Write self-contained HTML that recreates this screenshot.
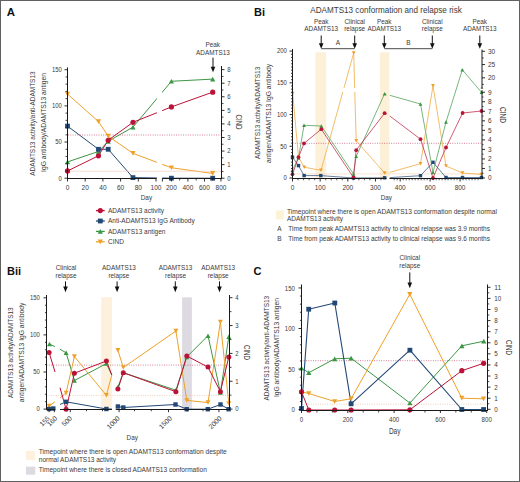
<!DOCTYPE html>
<html><head><meta charset="utf-8"><style>
html,body{margin:0;padding:0;background:#fff;}
svg{display:block;font-family:"Liberation Sans", sans-serif;}
</style></head><body>
<svg width="520" height="482" viewBox="0 0 520 482">
<rect x="0.5" y="0.5" width="519" height="481" fill="#fff" stroke="#606060" stroke-width="1"/>
<text x="6.8" y="16.1" font-size="11.4" text-anchor="start" fill="#111" font-weight="bold" >A</text>
<polyline points="67.50,161.93 98.47,151.44 108.21,141.31 132.99,127.14 171.40,81.28 212.70,79.11" fill="none" stroke="#3d9645" stroke-width="1.0" stroke-linejoin="round" />
<polyline points="67.50,94.07 98.47,121.61 108.21,136.13 132.99,153.37 171.40,167.75 212.70,173.45" fill="none" stroke="#eea12a" stroke-width="1.0" stroke-linejoin="round" />
<polyline points="67.50,126.12 98.47,149.27 108.21,149.27 132.99,177.62 171.40,178.20 212.70,178.20" fill="none" stroke="#224876" stroke-width="1.0" stroke-linejoin="round" />
<polyline points="67.50,170.97 98.47,155.78 108.21,140.23 132.99,122.29 171.40,106.95 212.70,92.13" fill="none" stroke="#bb1238" stroke-width="1.0" stroke-linejoin="round" />
<rect x="156.9" y="60" width="5.2" height="121" fill="#fff" />
<line x1="68" y1="135" x2="221.5" y2="135" stroke="#c24566" stroke-width="0.75" stroke-dasharray="0.9 1.45"/>
<line x1="68" y1="171.2" x2="221.5" y2="171.2" stroke="#f5c9b5" stroke-width="0.6" />
<polygon points="64.90,164.27 70.10,164.27 67.50,159.59" fill="#3d9645"/>
<polygon points="95.88,153.78 101.07,153.78 98.47,149.10" fill="#3d9645"/>
<polygon points="105.61,143.65 110.81,143.65 108.21,138.97" fill="#3d9645"/>
<polygon points="130.39,129.48 135.59,129.48 132.99,124.80" fill="#3d9645"/>
<polygon points="168.80,83.62 174.00,83.62 171.40,78.94" fill="#3d9645"/>
<polygon points="210.10,81.45 215.30,81.45 212.70,76.77" fill="#3d9645"/>
<polygon points="64.90,91.73 70.10,91.73 67.50,96.41" fill="#eea12a"/>
<polygon points="95.88,119.27 101.07,119.27 98.47,123.95" fill="#eea12a"/>
<polygon points="105.61,133.79 110.81,133.79 108.21,138.47" fill="#eea12a"/>
<polygon points="130.39,151.03 135.59,151.03 132.99,155.71" fill="#eea12a"/>
<polygon points="168.80,165.41 174.00,165.41 171.40,170.09" fill="#eea12a"/>
<polygon points="210.10,171.11 215.30,171.11 212.70,175.79" fill="#eea12a"/>
<rect x="65.10" y="123.72" width="4.8" height="4.8" fill="#224876"/>
<rect x="96.07" y="146.87" width="4.8" height="4.8" fill="#224876"/>
<rect x="105.81" y="146.87" width="4.8" height="4.8" fill="#224876"/>
<rect x="130.59" y="175.22" width="4.8" height="4.8" fill="#224876"/>
<rect x="169.00" y="175.80" width="4.8" height="4.8" fill="#224876"/>
<rect x="210.30" y="175.80" width="4.8" height="4.8" fill="#224876"/>
<circle cx="67.5" cy="170.96699999999998" r="2.6" fill="#bb1238"/>
<circle cx="98.475" cy="155.77769999999998" r="2.6" fill="#bb1238"/>
<circle cx="108.21000000000001" cy="140.22674999999998" r="2.6" fill="#bb1238"/>
<circle cx="132.99" cy="122.28890999999999" r="2.6" fill="#bb1238"/>
<circle cx="171.4" cy="106.95494999999998" r="2.6" fill="#bb1238"/>
<circle cx="212.70000000000002" cy="92.12729999999998" r="2.6" fill="#bb1238"/>
<line x1="67.5" y1="67.5" x2="67.5" y2="179.0" stroke="#1a1a1a" stroke-width="1" />
<line x1="64.5" y1="178.2" x2="67.5" y2="178.2" stroke="#1a1a1a" stroke-width="0.9" />
<text x="61.9" y="180.5" font-size="6.5" text-anchor="end" fill="#3a3a3a" textLength="3.3248800000000003" lengthAdjust="spacingAndGlyphs" >0</text>
<line x1="64.5" y1="142.03499999999997" x2="67.5" y2="142.03499999999997" stroke="#1a1a1a" stroke-width="0.9" />
<text x="61.9" y="144.33499999999998" font-size="6.5" text-anchor="end" fill="#3a3a3a" textLength="6.649760000000001" lengthAdjust="spacingAndGlyphs" >50</text>
<line x1="64.5" y1="105.86999999999998" x2="67.5" y2="105.86999999999998" stroke="#1a1a1a" stroke-width="0.9" />
<text x="61.9" y="108.16999999999997" font-size="6.5" text-anchor="end" fill="#3a3a3a" textLength="9.97464" lengthAdjust="spacingAndGlyphs" >100</text>
<line x1="64.5" y1="69.70499999999998" x2="67.5" y2="69.70499999999998" stroke="#1a1a1a" stroke-width="0.9" />
<text x="61.9" y="72.00499999999998" font-size="6.5" text-anchor="end" fill="#3a3a3a" textLength="9.97464" lengthAdjust="spacingAndGlyphs" >150</text>
<line x1="65.5" y1="170.96699999999998" x2="67.5" y2="170.96699999999998" stroke="#1a1a1a" stroke-width="0.8" />
<line x1="65.5" y1="163.73399999999998" x2="67.5" y2="163.73399999999998" stroke="#1a1a1a" stroke-width="0.8" />
<line x1="65.5" y1="156.50099999999998" x2="67.5" y2="156.50099999999998" stroke="#1a1a1a" stroke-width="0.8" />
<line x1="65.5" y1="149.26799999999997" x2="67.5" y2="149.26799999999997" stroke="#1a1a1a" stroke-width="0.8" />
<line x1="65.5" y1="134.802" x2="67.5" y2="134.802" stroke="#1a1a1a" stroke-width="0.8" />
<line x1="65.5" y1="127.56899999999999" x2="67.5" y2="127.56899999999999" stroke="#1a1a1a" stroke-width="0.8" />
<line x1="65.5" y1="120.33599999999998" x2="67.5" y2="120.33599999999998" stroke="#1a1a1a" stroke-width="0.8" />
<line x1="65.5" y1="113.10299999999998" x2="67.5" y2="113.10299999999998" stroke="#1a1a1a" stroke-width="0.8" />
<line x1="65.5" y1="98.63699999999999" x2="67.5" y2="98.63699999999999" stroke="#1a1a1a" stroke-width="0.8" />
<line x1="65.5" y1="91.40399999999998" x2="67.5" y2="91.40399999999998" stroke="#1a1a1a" stroke-width="0.8" />
<line x1="65.5" y1="84.17099999999998" x2="67.5" y2="84.17099999999998" stroke="#1a1a1a" stroke-width="0.8" />
<line x1="65.5" y1="76.93799999999999" x2="67.5" y2="76.93799999999999" stroke="#1a1a1a" stroke-width="0.8" />
<line x1="221.5" y1="66" x2="221.5" y2="179.0" stroke="#1a1a1a" stroke-width="1" />
<line x1="221.5" y1="178.2" x2="224.5" y2="178.2" stroke="#1a1a1a" stroke-width="0.9" />
<text x="227.2" y="180.5" font-size="6.5" text-anchor="start" fill="#3a3a3a" textLength="3.3248800000000003" lengthAdjust="spacingAndGlyphs" >0</text>
<line x1="221.5" y1="164.63" x2="224.5" y2="164.63" stroke="#1a1a1a" stroke-width="0.9" />
<text x="227.2" y="166.93" font-size="6.5" text-anchor="start" fill="#3a3a3a" textLength="3.3248800000000003" lengthAdjust="spacingAndGlyphs" >1</text>
<line x1="221.5" y1="151.06" x2="224.5" y2="151.06" stroke="#1a1a1a" stroke-width="0.9" />
<text x="227.2" y="153.36" font-size="6.5" text-anchor="start" fill="#3a3a3a" textLength="3.3248800000000003" lengthAdjust="spacingAndGlyphs" >2</text>
<line x1="221.5" y1="137.48999999999998" x2="224.5" y2="137.48999999999998" stroke="#1a1a1a" stroke-width="0.9" />
<text x="227.2" y="139.79" font-size="6.5" text-anchor="start" fill="#3a3a3a" textLength="3.3248800000000003" lengthAdjust="spacingAndGlyphs" >3</text>
<line x1="221.5" y1="123.91999999999999" x2="224.5" y2="123.91999999999999" stroke="#1a1a1a" stroke-width="0.9" />
<text x="227.2" y="126.21999999999998" font-size="6.5" text-anchor="start" fill="#3a3a3a" textLength="3.3248800000000003" lengthAdjust="spacingAndGlyphs" >4</text>
<line x1="221.5" y1="110.35" x2="224.5" y2="110.35" stroke="#1a1a1a" stroke-width="0.9" />
<text x="227.2" y="112.64999999999999" font-size="6.5" text-anchor="start" fill="#3a3a3a" textLength="3.3248800000000003" lengthAdjust="spacingAndGlyphs" >5</text>
<line x1="221.5" y1="96.77999999999999" x2="224.5" y2="96.77999999999999" stroke="#1a1a1a" stroke-width="0.9" />
<text x="227.2" y="99.07999999999998" font-size="6.5" text-anchor="start" fill="#3a3a3a" textLength="3.3248800000000003" lengthAdjust="spacingAndGlyphs" >6</text>
<line x1="221.5" y1="83.20999999999998" x2="224.5" y2="83.20999999999998" stroke="#1a1a1a" stroke-width="0.9" />
<text x="227.2" y="85.50999999999998" font-size="6.5" text-anchor="start" fill="#3a3a3a" textLength="3.3248800000000003" lengthAdjust="spacingAndGlyphs" >7</text>
<line x1="221.5" y1="69.63999999999999" x2="224.5" y2="69.63999999999999" stroke="#1a1a1a" stroke-width="0.9" />
<text x="227.2" y="71.93999999999998" font-size="6.5" text-anchor="start" fill="#3a3a3a" textLength="3.3248800000000003" lengthAdjust="spacingAndGlyphs" >8</text>
<line x1="221.5" y1="171.415" x2="223.5" y2="171.415" stroke="#1a1a1a" stroke-width="0.8" />
<line x1="221.5" y1="157.845" x2="223.5" y2="157.845" stroke="#1a1a1a" stroke-width="0.8" />
<line x1="221.5" y1="144.27499999999998" x2="223.5" y2="144.27499999999998" stroke="#1a1a1a" stroke-width="0.8" />
<line x1="221.5" y1="130.70499999999998" x2="223.5" y2="130.70499999999998" stroke="#1a1a1a" stroke-width="0.8" />
<line x1="221.5" y1="117.13499999999999" x2="223.5" y2="117.13499999999999" stroke="#1a1a1a" stroke-width="0.8" />
<line x1="221.5" y1="103.56499999999998" x2="223.5" y2="103.56499999999998" stroke="#1a1a1a" stroke-width="0.8" />
<line x1="221.5" y1="89.99499999999999" x2="223.5" y2="89.99499999999999" stroke="#1a1a1a" stroke-width="0.8" />
<line x1="221.5" y1="76.42499999999998" x2="223.5" y2="76.42499999999998" stroke="#1a1a1a" stroke-width="0.8" />
<line x1="67.5" y1="178.5" x2="156.5" y2="178.5" stroke="#1a1a1a" stroke-width="1" />
<line x1="162.4" y1="178.5" x2="221.5" y2="178.5" stroke="#1a1a1a" stroke-width="1" />
<line x1="67.5" y1="178.5" x2="67.5" y2="181.5" stroke="#1a1a1a" stroke-width="0.9" />
<text x="67.5" y="189.5" font-size="6.5" text-anchor="middle" fill="#3a3a3a" >0</text>
<line x1="85.2" y1="178.5" x2="85.2" y2="181.5" stroke="#1a1a1a" stroke-width="0.9" />
<text x="85.2" y="189.5" font-size="6.5" text-anchor="middle" fill="#3a3a3a" >20</text>
<line x1="102.9" y1="178.5" x2="102.9" y2="181.5" stroke="#1a1a1a" stroke-width="0.9" />
<text x="102.9" y="189.5" font-size="6.5" text-anchor="middle" fill="#3a3a3a" >40</text>
<line x1="120.6" y1="178.5" x2="120.6" y2="181.5" stroke="#1a1a1a" stroke-width="0.9" />
<text x="120.6" y="189.5" font-size="6.5" text-anchor="middle" fill="#3a3a3a" >60</text>
<line x1="138.3" y1="178.5" x2="138.3" y2="181.5" stroke="#1a1a1a" stroke-width="0.9" />
<text x="138.3" y="189.5" font-size="6.5" text-anchor="middle" fill="#3a3a3a" >80</text>
<line x1="156.0" y1="178.5" x2="156.0" y2="181.5" stroke="#1a1a1a" stroke-width="0.9" />
<text x="156.0" y="189.5" font-size="6.5" text-anchor="middle" fill="#3a3a3a" >100</text>
<line x1="162.4" y1="178.5" x2="162.4" y2="181.5" stroke="#1a1a1a" stroke-width="0.9" />
<line x1="171.4" y1="178.5" x2="171.4" y2="181.5" stroke="#1a1a1a" stroke-width="0.9" />
<text x="171.4" y="189.5" font-size="6.5" text-anchor="middle" fill="#3a3a3a" >200</text>
<line x1="187.92000000000002" y1="178.5" x2="187.92000000000002" y2="181.5" stroke="#1a1a1a" stroke-width="0.9" />
<text x="187.92000000000002" y="189.5" font-size="6.5" text-anchor="middle" fill="#3a3a3a" >400</text>
<line x1="204.44" y1="178.5" x2="204.44" y2="181.5" stroke="#1a1a1a" stroke-width="0.9" />
<text x="204.44" y="189.5" font-size="6.5" text-anchor="middle" fill="#3a3a3a" >600</text>
<line x1="220.96" y1="178.5" x2="220.96" y2="181.5" stroke="#1a1a1a" stroke-width="0.9" />
<text x="220.96" y="189.5" font-size="6.5" text-anchor="middle" fill="#3a3a3a" >800</text>
<line x1="179.66" y1="178.5" x2="179.66" y2="180.5" stroke="#1a1a1a" stroke-width="0.8" />
<line x1="196.18" y1="178.5" x2="196.18" y2="180.5" stroke="#1a1a1a" stroke-width="0.8" />
<line x1="212.70000000000002" y1="178.5" x2="212.70000000000002" y2="180.5" stroke="#1a1a1a" stroke-width="0.8" />
<text x="146.4" y="199.7" font-size="6.8" text-anchor="middle" fill="#3a3a3a" textLength="11.4" lengthAdjust="spacingAndGlyphs" >Day</text>
<text x="35" y="123.6" font-size="8.1" text-anchor="middle" fill="#3a3a3a" textLength="104.5" lengthAdjust="spacingAndGlyphs" transform="rotate(-90 35 123.6)" >ADAMTS13 activity/anti-ADAMTS13</text>
<text x="45.6" y="122.5" font-size="8.1" text-anchor="middle" fill="#3a3a3a" textLength="98.8" lengthAdjust="spacingAndGlyphs" transform="rotate(-90 45.6 122.5)" >IgG antibody/ADAMTS13 antigen</text>
<text x="236.3" y="122" font-size="8.8" text-anchor="middle" fill="#3a3a3a" textLength="15" lengthAdjust="spacingAndGlyphs" transform="rotate(90 236.3 122)" >CIND</text>
<text x="212.7" y="47.3" font-size="6.4" text-anchor="middle" fill="#3a3a3a" >Peak</text>
<text x="212.9" y="54.8" font-size="6.4" text-anchor="middle" fill="#3a3a3a" >ADAMTS13</text>
<line x1="213" y1="57.7" x2="213" y2="67.7" stroke="#111" stroke-width="1" />
<polygon points="210.70,66.70 215.30,66.70 213.00,72.30" fill="#111"/>
<line x1="96" y1="210.6" x2="104.7" y2="210.6" stroke="#bb1238" stroke-width="1.3" />
<circle cx="100.3" cy="210.6" r="2.6" fill="#bb1238"/>
<text x="108" y="212.9" font-size="6.5" text-anchor="start" fill="#3a3a3a" >ADAMTS13 activity</text>
<line x1="96" y1="221.0" x2="104.7" y2="221.0" stroke="#224876" stroke-width="1.3" />
<rect x="97.90" y="218.60" width="4.8" height="4.8" fill="#224876"/>
<text x="108" y="223.3" font-size="6.5" text-anchor="start" fill="#3a3a3a" >Anti-ADAMTS13 IgG Antibody</text>
<line x1="96" y1="231.4" x2="104.7" y2="231.4" stroke="#3d9645" stroke-width="1.3" />
<polygon points="97.70,233.74 102.90,233.74 100.30,229.06" fill="#3d9645"/>
<text x="108" y="233.70000000000002" font-size="6.5" text-anchor="start" fill="#3a3a3a" >ADAMTS13 antigen</text>
<line x1="96" y1="241.8" x2="104.7" y2="241.8" stroke="#eea12a" stroke-width="1.3" />
<polygon points="97.70,239.46 102.90,239.46 100.30,244.14" fill="#eea12a"/>
<text x="108" y="244.10000000000002" font-size="6.5" text-anchor="start" fill="#3a3a3a" >CIND</text>
<text x="254" y="16.2" font-size="11" text-anchor="start" fill="#111" font-weight="bold" >Bi</text>
<text x="386" y="13" font-size="8.2" text-anchor="middle" fill="#3a3a3a" textLength="151.5" lengthAdjust="spacingAndGlyphs" >ADAMTS13 conformation and relapse risk</text>
<rect x="315.4" y="52.3" width="10.8" height="125.7" fill="#fdf0d8" />
<rect x="379.8" y="52.3" width="9.6" height="125.7" fill="#fdf0d8" />
<text x="321.2" y="23.6" font-size="6.4" text-anchor="middle" fill="#3a3a3a" >Peak</text>
<text x="321.2" y="31.4" font-size="6.4" text-anchor="middle" fill="#3a3a3a" >ADAMTS13</text>
<line x1="321.2" y1="35.5" x2="321.2" y2="44.199999999999996" stroke="#111" stroke-width="1" />
<polygon points="318.90,43.20 323.50,43.20 321.20,48.80" fill="#111"/>
<text x="354.7" y="23.6" font-size="6.4" text-anchor="middle" fill="#3a3a3a" >Clinical</text>
<text x="354.7" y="31.4" font-size="6.4" text-anchor="middle" fill="#3a3a3a" >relapse</text>
<line x1="354.7" y1="35.5" x2="354.7" y2="44.199999999999996" stroke="#111" stroke-width="1" />
<polygon points="352.40,43.20 357.00,43.20 354.70,48.80" fill="#111"/>
<text x="384.3" y="23.6" font-size="6.4" text-anchor="middle" fill="#3a3a3a" >Peak</text>
<text x="384.3" y="31.4" font-size="6.4" text-anchor="middle" fill="#3a3a3a" >ADAMTS13</text>
<line x1="384.3" y1="35.5" x2="384.3" y2="44.199999999999996" stroke="#111" stroke-width="1" />
<polygon points="382.00,43.20 386.60,43.20 384.30,48.80" fill="#111"/>
<text x="432.3" y="23.6" font-size="6.4" text-anchor="middle" fill="#3a3a3a" >Clinical</text>
<text x="432.3" y="31.4" font-size="6.4" text-anchor="middle" fill="#3a3a3a" >relapse</text>
<line x1="432.3" y1="35.5" x2="432.3" y2="44.199999999999996" stroke="#111" stroke-width="1" />
<polygon points="430.00,43.20 434.60,43.20 432.30,48.80" fill="#111"/>
<text x="479.8" y="23.6" font-size="6.4" text-anchor="middle" fill="#3a3a3a" >Peak</text>
<text x="479.8" y="31.4" font-size="6.4" text-anchor="middle" fill="#3a3a3a" >ADAMTS13</text>
<line x1="479.8" y1="35.5" x2="479.8" y2="44.199999999999996" stroke="#111" stroke-width="1" />
<polygon points="477.50,43.20 482.10,43.20 479.80,48.80" fill="#111"/>
<line x1="321.2" y1="48.7" x2="354.7" y2="48.7" stroke="#4a4a4a" stroke-width="1" />
<line x1="384.3" y1="48.7" x2="432.3" y2="48.7" stroke="#4a4a4a" stroke-width="1" />
<text x="338" y="45" font-size="6.5" text-anchor="middle" fill="#3a3a3a" >A</text>
<text x="408.5" y="45" font-size="6.5" text-anchor="middle" fill="#3a3a3a" >B</text>
<line x1="292.5" y1="143.3" x2="482" y2="143.3" stroke="#c24566" stroke-width="0.75" stroke-dasharray="0.9 1.45"/>
<line x1="292.5" y1="173.9" x2="482" y2="173.9" stroke="#f7d0b0" stroke-width="0.6" />
<polyline points="292.50,170.00 298.50,158.00 304.00,125.30 321.30,126.00 353.50,174.00 356.20,156.40 384.60,93.70 386.50,94.30" fill="none" stroke="#3d9645" stroke-width="0.7" stroke-linejoin="round" />
<polyline points="389.80,95.30 420.50,104.00 433.00,172.50 446.00,122.00 462.30,69.80 481.50,92.30" fill="none" stroke="#3d9645" stroke-width="0.7" stroke-linejoin="round" />
<polyline points="292.70,93.50 298.50,157.50 304.30,167.20 321.00,170.30 353.70,53.00 356.20,140.80 384.60,173.00 386.50,172.80" fill="none" stroke="#eea12a" stroke-width="0.7" stroke-linejoin="round" />
<polyline points="389.80,172.30 420.50,163.70 433.00,85.80 446.00,166.00 462.50,173.00 481.30,174.40" fill="none" stroke="#eea12a" stroke-width="0.7" stroke-linejoin="round" />
<rect x="335" y="88" width="25" height="3.8" fill="#fff" />
<polyline points="292.50,157.20 298.50,165.60 304.10,175.60 320.80,175.60 353.50,178.00 384.60,177.80 386.50,177.80" fill="none" stroke="#224876" stroke-width="0.7" stroke-linejoin="round" />
<polyline points="389.80,177.60 420.50,175.70 433.00,162.30 446.00,177.50 462.50,177.50 481.50,177.50" fill="none" stroke="#224876" stroke-width="0.7" stroke-linejoin="round" />
<polyline points="292.50,174.20 298.50,157.20 304.00,143.40 321.30,129.20 353.50,177.50 356.20,150.20 384.60,113.20 386.50,114.20" fill="none" stroke="#bb1238" stroke-width="0.7" stroke-linejoin="round" />
<polyline points="389.80,116.00 420.50,139.20 433.00,178.00 446.00,147.50 462.60,113.00 481.50,111.00" fill="none" stroke="#bb1238" stroke-width="0.7" stroke-linejoin="round" />
<polygon points="290.60,171.71 294.40,171.71 292.50,168.29" fill="#3d9645"/>
<polygon points="296.60,159.71 300.40,159.71 298.50,156.29" fill="#3d9645"/>
<polygon points="302.10,127.01 305.90,127.01 304.00,123.59" fill="#3d9645"/>
<polygon points="319.40,127.71 323.20,127.71 321.30,124.29" fill="#3d9645"/>
<polygon points="351.60,175.71 355.40,175.71 353.50,172.29" fill="#3d9645"/>
<polygon points="354.30,158.11 358.10,158.11 356.20,154.69" fill="#3d9645"/>
<polygon points="382.70,95.41 386.50,95.41 384.60,91.99" fill="#3d9645"/>
<polygon points="418.60,105.71 422.40,105.71 420.50,102.29" fill="#3d9645"/>
<polygon points="431.10,174.21 434.90,174.21 433.00,170.79" fill="#3d9645"/>
<polygon points="444.10,123.71 447.90,123.71 446.00,120.29" fill="#3d9645"/>
<polygon points="460.40,71.51 464.20,71.51 462.30,68.09" fill="#3d9645"/>
<polygon points="479.60,94.01 483.40,94.01 481.50,90.59" fill="#3d9645"/>
<polygon points="290.80,91.79 294.60,91.79 292.70,95.21" fill="#eea12a"/>
<polygon points="296.60,155.79 300.40,155.79 298.50,159.21" fill="#eea12a"/>
<polygon points="302.40,165.49 306.20,165.49 304.30,168.91" fill="#eea12a"/>
<polygon points="319.10,168.59 322.90,168.59 321.00,172.01" fill="#eea12a"/>
<polygon points="351.80,51.29 355.60,51.29 353.70,54.71" fill="#eea12a"/>
<polygon points="354.30,139.09 358.10,139.09 356.20,142.51" fill="#eea12a"/>
<polygon points="382.70,171.29 386.50,171.29 384.60,174.71" fill="#eea12a"/>
<polygon points="418.60,161.99 422.40,161.99 420.50,165.41" fill="#eea12a"/>
<polygon points="431.10,84.09 434.90,84.09 433.00,87.51" fill="#eea12a"/>
<polygon points="444.10,164.29 447.90,164.29 446.00,167.71" fill="#eea12a"/>
<polygon points="460.60,171.29 464.40,171.29 462.50,174.71" fill="#eea12a"/>
<polygon points="479.40,172.69 483.20,172.69 481.30,176.11" fill="#eea12a"/>
<rect x="290.80" y="155.50" width="3.4" height="3.4" fill="#224876"/>
<rect x="296.80" y="163.90" width="3.4" height="3.4" fill="#224876"/>
<rect x="302.40" y="173.90" width="3.4" height="3.4" fill="#224876"/>
<rect x="319.10" y="173.90" width="3.4" height="3.4" fill="#224876"/>
<rect x="351.80" y="176.30" width="3.4" height="3.4" fill="#224876"/>
<rect x="382.90" y="176.10" width="3.4" height="3.4" fill="#224876"/>
<rect x="418.80" y="174.00" width="3.4" height="3.4" fill="#224876"/>
<rect x="431.30" y="160.60" width="3.4" height="3.4" fill="#224876"/>
<rect x="444.30" y="175.80" width="3.4" height="3.4" fill="#224876"/>
<rect x="460.80" y="175.80" width="3.4" height="3.4" fill="#224876"/>
<rect x="479.80" y="175.80" width="3.4" height="3.4" fill="#224876"/>
<circle cx="292.5" cy="174.2" r="1.9" fill="#bb1238"/>
<circle cx="298.5" cy="157.2" r="1.9" fill="#bb1238"/>
<circle cx="304" cy="143.4" r="1.9" fill="#bb1238"/>
<circle cx="321.3" cy="129.2" r="1.9" fill="#bb1238"/>
<circle cx="353.5" cy="177.5" r="1.9" fill="#bb1238"/>
<circle cx="356.2" cy="150.2" r="1.9" fill="#bb1238"/>
<circle cx="384.6" cy="113.2" r="1.9" fill="#bb1238"/>
<circle cx="420.5" cy="139.2" r="1.9" fill="#bb1238"/>
<circle cx="433" cy="178" r="1.9" fill="#bb1238"/>
<circle cx="446" cy="147.5" r="1.9" fill="#bb1238"/>
<circle cx="462.6" cy="113" r="1.9" fill="#bb1238"/>
<circle cx="481.5" cy="111" r="1.9" fill="#bb1238"/>
<line x1="292.5" y1="49" x2="292.5" y2="179.0" stroke="#1a1a1a" stroke-width="1" />
<line x1="289.5" y1="178.0" x2="292.5" y2="178.0" stroke="#1a1a1a" stroke-width="0.9" />
<text x="286.9" y="180.3" font-size="6.5" text-anchor="end" fill="#3a3a3a" textLength="3.3248800000000003" lengthAdjust="spacingAndGlyphs" >0</text>
<line x1="289.5" y1="146.275" x2="292.5" y2="146.275" stroke="#1a1a1a" stroke-width="0.9" />
<text x="286.9" y="148.57500000000002" font-size="6.5" text-anchor="end" fill="#3a3a3a" textLength="6.649760000000001" lengthAdjust="spacingAndGlyphs" >50</text>
<line x1="289.5" y1="114.55000000000001" x2="292.5" y2="114.55000000000001" stroke="#1a1a1a" stroke-width="0.9" />
<text x="286.9" y="116.85000000000001" font-size="6.5" text-anchor="end" fill="#3a3a3a" textLength="9.97464" lengthAdjust="spacingAndGlyphs" >100</text>
<line x1="289.5" y1="82.825" x2="292.5" y2="82.825" stroke="#1a1a1a" stroke-width="0.9" />
<text x="286.9" y="85.125" font-size="6.5" text-anchor="end" fill="#3a3a3a" textLength="9.97464" lengthAdjust="spacingAndGlyphs" >150</text>
<line x1="289.5" y1="51.10000000000001" x2="292.5" y2="51.10000000000001" stroke="#1a1a1a" stroke-width="0.9" />
<text x="286.9" y="53.400000000000006" font-size="6.5" text-anchor="end" fill="#3a3a3a" textLength="9.97464" lengthAdjust="spacingAndGlyphs" >200</text>
<line x1="291.0" y1="174.8275" x2="292.5" y2="174.8275" stroke="#1a1a1a" stroke-width="0.8" />
<line x1="291.0" y1="171.655" x2="292.5" y2="171.655" stroke="#1a1a1a" stroke-width="0.8" />
<line x1="291.0" y1="168.4825" x2="292.5" y2="168.4825" stroke="#1a1a1a" stroke-width="0.8" />
<line x1="291.0" y1="165.31" x2="292.5" y2="165.31" stroke="#1a1a1a" stroke-width="0.8" />
<line x1="291.0" y1="162.1375" x2="292.5" y2="162.1375" stroke="#1a1a1a" stroke-width="0.8" />
<line x1="291.0" y1="158.965" x2="292.5" y2="158.965" stroke="#1a1a1a" stroke-width="0.8" />
<line x1="291.0" y1="155.7925" x2="292.5" y2="155.7925" stroke="#1a1a1a" stroke-width="0.8" />
<line x1="291.0" y1="152.62" x2="292.5" y2="152.62" stroke="#1a1a1a" stroke-width="0.8" />
<line x1="291.0" y1="149.4475" x2="292.5" y2="149.4475" stroke="#1a1a1a" stroke-width="0.8" />
<line x1="291.0" y1="143.1025" x2="292.5" y2="143.1025" stroke="#1a1a1a" stroke-width="0.8" />
<line x1="291.0" y1="139.93" x2="292.5" y2="139.93" stroke="#1a1a1a" stroke-width="0.8" />
<line x1="291.0" y1="136.7575" x2="292.5" y2="136.7575" stroke="#1a1a1a" stroke-width="0.8" />
<line x1="291.0" y1="133.585" x2="292.5" y2="133.585" stroke="#1a1a1a" stroke-width="0.8" />
<line x1="291.0" y1="130.4125" x2="292.5" y2="130.4125" stroke="#1a1a1a" stroke-width="0.8" />
<line x1="291.0" y1="127.24000000000001" x2="292.5" y2="127.24000000000001" stroke="#1a1a1a" stroke-width="0.8" />
<line x1="291.0" y1="124.0675" x2="292.5" y2="124.0675" stroke="#1a1a1a" stroke-width="0.8" />
<line x1="291.0" y1="120.89500000000001" x2="292.5" y2="120.89500000000001" stroke="#1a1a1a" stroke-width="0.8" />
<line x1="291.0" y1="117.7225" x2="292.5" y2="117.7225" stroke="#1a1a1a" stroke-width="0.8" />
<line x1="291.0" y1="111.37750000000001" x2="292.5" y2="111.37750000000001" stroke="#1a1a1a" stroke-width="0.8" />
<line x1="291.0" y1="108.205" x2="292.5" y2="108.205" stroke="#1a1a1a" stroke-width="0.8" />
<line x1="291.0" y1="105.0325" x2="292.5" y2="105.0325" stroke="#1a1a1a" stroke-width="0.8" />
<line x1="291.0" y1="101.86" x2="292.5" y2="101.86" stroke="#1a1a1a" stroke-width="0.8" />
<line x1="291.0" y1="98.6875" x2="292.5" y2="98.6875" stroke="#1a1a1a" stroke-width="0.8" />
<line x1="291.0" y1="95.515" x2="292.5" y2="95.515" stroke="#1a1a1a" stroke-width="0.8" />
<line x1="291.0" y1="92.3425" x2="292.5" y2="92.3425" stroke="#1a1a1a" stroke-width="0.8" />
<line x1="291.0" y1="89.17" x2="292.5" y2="89.17" stroke="#1a1a1a" stroke-width="0.8" />
<line x1="291.0" y1="85.9975" x2="292.5" y2="85.9975" stroke="#1a1a1a" stroke-width="0.8" />
<line x1="291.0" y1="79.6525" x2="292.5" y2="79.6525" stroke="#1a1a1a" stroke-width="0.8" />
<line x1="291.0" y1="76.48" x2="292.5" y2="76.48" stroke="#1a1a1a" stroke-width="0.8" />
<line x1="291.0" y1="73.3075" x2="292.5" y2="73.3075" stroke="#1a1a1a" stroke-width="0.8" />
<line x1="291.0" y1="70.135" x2="292.5" y2="70.135" stroke="#1a1a1a" stroke-width="0.8" />
<line x1="291.0" y1="66.9625" x2="292.5" y2="66.9625" stroke="#1a1a1a" stroke-width="0.8" />
<line x1="291.0" y1="63.790000000000006" x2="292.5" y2="63.790000000000006" stroke="#1a1a1a" stroke-width="0.8" />
<line x1="291.0" y1="60.61750000000001" x2="292.5" y2="60.61750000000001" stroke="#1a1a1a" stroke-width="0.8" />
<line x1="291.0" y1="57.44500000000001" x2="292.5" y2="57.44500000000001" stroke="#1a1a1a" stroke-width="0.8" />
<line x1="291.0" y1="54.27250000000001" x2="292.5" y2="54.27250000000001" stroke="#1a1a1a" stroke-width="0.8" />
<line x1="482" y1="49.5" x2="482" y2="88.2" stroke="#1a1a1a" stroke-width="1" />
<line x1="480.8" y1="88.2" x2="483.2" y2="88.2" stroke="#1a1a1a" stroke-width="0.8" />
<line x1="482" y1="90.2" x2="482" y2="178.5" stroke="#1a1a1a" stroke-width="1" />
<line x1="482" y1="178.0" x2="485" y2="178.0" stroke="#1a1a1a" stroke-width="0.9" />
<text x="488" y="180.3" font-size="6.5" text-anchor="start" fill="#3a3a3a" >0</text>
<line x1="482" y1="168.47" x2="485" y2="168.47" stroke="#1a1a1a" stroke-width="0.9" />
<text x="488" y="170.77" font-size="6.5" text-anchor="start" fill="#3a3a3a" >1</text>
<line x1="482" y1="158.94" x2="485" y2="158.94" stroke="#1a1a1a" stroke-width="0.9" />
<text x="488" y="161.24" font-size="6.5" text-anchor="start" fill="#3a3a3a" >2</text>
<line x1="482" y1="149.41" x2="485" y2="149.41" stroke="#1a1a1a" stroke-width="0.9" />
<text x="488" y="151.71" font-size="6.5" text-anchor="start" fill="#3a3a3a" >3</text>
<line x1="482" y1="139.88" x2="485" y2="139.88" stroke="#1a1a1a" stroke-width="0.9" />
<text x="488" y="142.18" font-size="6.5" text-anchor="start" fill="#3a3a3a" >4</text>
<line x1="482" y1="130.35" x2="485" y2="130.35" stroke="#1a1a1a" stroke-width="0.9" />
<text x="488" y="132.65" font-size="6.5" text-anchor="start" fill="#3a3a3a" >5</text>
<line x1="482" y1="120.82000000000001" x2="485" y2="120.82000000000001" stroke="#1a1a1a" stroke-width="0.9" />
<text x="488" y="123.12" font-size="6.5" text-anchor="start" fill="#3a3a3a" >6</text>
<line x1="482" y1="111.29" x2="485" y2="111.29" stroke="#1a1a1a" stroke-width="0.9" />
<text x="488" y="113.59" font-size="6.5" text-anchor="start" fill="#3a3a3a" >7</text>
<line x1="482" y1="101.76" x2="485" y2="101.76" stroke="#1a1a1a" stroke-width="0.9" />
<text x="488" y="104.06" font-size="6.5" text-anchor="start" fill="#3a3a3a" >8</text>
<line x1="482" y1="92.23" x2="485" y2="92.23" stroke="#1a1a1a" stroke-width="0.9" />
<text x="488" y="94.53" font-size="6.5" text-anchor="start" fill="#3a3a3a" >9</text>
<line x1="482" y1="77.8" x2="485" y2="77.8" stroke="#1a1a1a" stroke-width="0.9" />
<text x="488" y="80.1" font-size="6.5" text-anchor="start" fill="#3a3a3a" >20</text>
<line x1="482" y1="64.55" x2="485" y2="64.55" stroke="#1a1a1a" stroke-width="0.9" />
<text x="488" y="66.85" font-size="6.5" text-anchor="start" fill="#3a3a3a" >25</text>
<line x1="482" y1="51.3" x2="485" y2="51.3" stroke="#1a1a1a" stroke-width="0.9" />
<text x="488" y="53.599999999999994" font-size="6.5" text-anchor="start" fill="#3a3a3a" >30</text>
<line x1="482" y1="84.425" x2="483.8" y2="84.425" stroke="#1a1a1a" stroke-width="0.8" />
<line x1="482" y1="71.175" x2="483.8" y2="71.175" stroke="#1a1a1a" stroke-width="0.8" />
<line x1="482" y1="57.925" x2="483.8" y2="57.925" stroke="#1a1a1a" stroke-width="0.8" />
<line x1="482" y1="173.235" x2="483.6" y2="173.235" stroke="#1a1a1a" stroke-width="0.7" />
<line x1="482" y1="163.705" x2="483.6" y2="163.705" stroke="#1a1a1a" stroke-width="0.7" />
<line x1="482" y1="154.175" x2="483.6" y2="154.175" stroke="#1a1a1a" stroke-width="0.7" />
<line x1="482" y1="144.645" x2="483.6" y2="144.645" stroke="#1a1a1a" stroke-width="0.7" />
<line x1="482" y1="135.115" x2="483.6" y2="135.115" stroke="#1a1a1a" stroke-width="0.7" />
<line x1="482" y1="125.58500000000001" x2="483.6" y2="125.58500000000001" stroke="#1a1a1a" stroke-width="0.7" />
<line x1="482" y1="116.055" x2="483.6" y2="116.055" stroke="#1a1a1a" stroke-width="0.7" />
<line x1="482" y1="106.525" x2="483.6" y2="106.525" stroke="#1a1a1a" stroke-width="0.7" />
<line x1="482" y1="96.995" x2="483.6" y2="96.995" stroke="#1a1a1a" stroke-width="0.7" />
<text x="500.4" y="115" font-size="8.8" text-anchor="middle" fill="#3a3a3a" textLength="16" lengthAdjust="spacingAndGlyphs" transform="rotate(90 500.4 115)" >CIND</text>
<line x1="292.3" y1="178.5" x2="386.5" y2="178.5" stroke="#1a1a1a" stroke-width="1.2" />
<line x1="389.5" y1="178.5" x2="482" y2="178.5" stroke="#1a1a1a" stroke-width="1.2" />
<line x1="292.5" y1="178.5" x2="292.5" y2="181.5" stroke="#1a1a1a" stroke-width="0.9" />
<text x="292.5" y="189.5" font-size="6.5" text-anchor="middle" fill="#3a3a3a" >0</text>
<line x1="320.16" y1="178.5" x2="320.16" y2="181.5" stroke="#1a1a1a" stroke-width="0.9" />
<text x="320.16" y="189.5" font-size="6.5" text-anchor="middle" fill="#3a3a3a" >100</text>
<line x1="347.82" y1="178.5" x2="347.82" y2="181.5" stroke="#1a1a1a" stroke-width="0.9" />
<text x="347.82" y="189.5" font-size="6.5" text-anchor="middle" fill="#3a3a3a" >200</text>
<line x1="375.48" y1="178.5" x2="375.48" y2="181.5" stroke="#1a1a1a" stroke-width="0.9" />
<text x="375.48" y="189.5" font-size="6.5" text-anchor="middle" fill="#3a3a3a" >300</text>
<line x1="400.2" y1="178.5" x2="400.2" y2="181.5" stroke="#1a1a1a" stroke-width="0.9" />
<text x="400.2" y="189.5" font-size="6.5" text-anchor="middle" fill="#3a3a3a" >400</text>
<line x1="430.14" y1="178.5" x2="430.14" y2="181.5" stroke="#1a1a1a" stroke-width="0.9" />
<text x="430.14" y="189.5" font-size="6.5" text-anchor="middle" fill="#3a3a3a" >600</text>
<line x1="460.08" y1="178.5" x2="460.08" y2="181.5" stroke="#1a1a1a" stroke-width="0.9" />
<text x="460.08" y="189.5" font-size="6.5" text-anchor="middle" fill="#3a3a3a" >800</text>
<line x1="298.032" y1="178.5" x2="298.032" y2="180.3" stroke="#1a1a1a" stroke-width="0.7" />
<line x1="303.564" y1="178.5" x2="303.564" y2="180.3" stroke="#1a1a1a" stroke-width="0.7" />
<line x1="309.096" y1="178.5" x2="309.096" y2="180.3" stroke="#1a1a1a" stroke-width="0.7" />
<line x1="314.628" y1="178.5" x2="314.628" y2="180.3" stroke="#1a1a1a" stroke-width="0.7" />
<line x1="325.692" y1="178.5" x2="325.692" y2="180.3" stroke="#1a1a1a" stroke-width="0.7" />
<line x1="331.224" y1="178.5" x2="331.224" y2="180.3" stroke="#1a1a1a" stroke-width="0.7" />
<line x1="336.756" y1="178.5" x2="336.756" y2="180.3" stroke="#1a1a1a" stroke-width="0.7" />
<line x1="342.288" y1="178.5" x2="342.288" y2="180.3" stroke="#1a1a1a" stroke-width="0.7" />
<line x1="353.352" y1="178.5" x2="353.352" y2="180.3" stroke="#1a1a1a" stroke-width="0.7" />
<line x1="358.884" y1="178.5" x2="358.884" y2="180.3" stroke="#1a1a1a" stroke-width="0.7" />
<line x1="364.416" y1="178.5" x2="364.416" y2="180.3" stroke="#1a1a1a" stroke-width="0.7" />
<line x1="369.948" y1="178.5" x2="369.948" y2="180.3" stroke="#1a1a1a" stroke-width="0.7" />
<line x1="381.012" y1="178.5" x2="381.012" y2="180.3" stroke="#1a1a1a" stroke-width="0.7" />
<line x1="394.212" y1="178.5" x2="394.212" y2="180.3" stroke="#1a1a1a" stroke-width="0.7" />
<line x1="397.206" y1="178.5" x2="397.206" y2="180.3" stroke="#1a1a1a" stroke-width="0.7" />
<line x1="403.19399999999996" y1="178.5" x2="403.19399999999996" y2="180.3" stroke="#1a1a1a" stroke-width="0.7" />
<line x1="406.188" y1="178.5" x2="406.188" y2="180.3" stroke="#1a1a1a" stroke-width="0.7" />
<line x1="409.182" y1="178.5" x2="409.182" y2="180.3" stroke="#1a1a1a" stroke-width="0.7" />
<line x1="412.176" y1="178.5" x2="412.176" y2="180.3" stroke="#1a1a1a" stroke-width="0.7" />
<line x1="415.17" y1="178.5" x2="415.17" y2="180.3" stroke="#1a1a1a" stroke-width="0.7" />
<line x1="418.164" y1="178.5" x2="418.164" y2="180.3" stroke="#1a1a1a" stroke-width="0.7" />
<line x1="421.158" y1="178.5" x2="421.158" y2="180.3" stroke="#1a1a1a" stroke-width="0.7" />
<line x1="424.152" y1="178.5" x2="424.152" y2="180.3" stroke="#1a1a1a" stroke-width="0.7" />
<line x1="427.146" y1="178.5" x2="427.146" y2="180.3" stroke="#1a1a1a" stroke-width="0.7" />
<line x1="433.134" y1="178.5" x2="433.134" y2="180.3" stroke="#1a1a1a" stroke-width="0.7" />
<line x1="436.128" y1="178.5" x2="436.128" y2="180.3" stroke="#1a1a1a" stroke-width="0.7" />
<line x1="439.12199999999996" y1="178.5" x2="439.12199999999996" y2="180.3" stroke="#1a1a1a" stroke-width="0.7" />
<line x1="442.116" y1="178.5" x2="442.116" y2="180.3" stroke="#1a1a1a" stroke-width="0.7" />
<line x1="445.11" y1="178.5" x2="445.11" y2="180.3" stroke="#1a1a1a" stroke-width="0.7" />
<line x1="448.104" y1="178.5" x2="448.104" y2="180.3" stroke="#1a1a1a" stroke-width="0.7" />
<line x1="451.098" y1="178.5" x2="451.098" y2="180.3" stroke="#1a1a1a" stroke-width="0.7" />
<line x1="454.092" y1="178.5" x2="454.092" y2="180.3" stroke="#1a1a1a" stroke-width="0.7" />
<line x1="457.086" y1="178.5" x2="457.086" y2="180.3" stroke="#1a1a1a" stroke-width="0.7" />
<line x1="463.074" y1="178.5" x2="463.074" y2="180.3" stroke="#1a1a1a" stroke-width="0.7" />
<line x1="466.068" y1="178.5" x2="466.068" y2="180.3" stroke="#1a1a1a" stroke-width="0.7" />
<line x1="469.062" y1="178.5" x2="469.062" y2="180.3" stroke="#1a1a1a" stroke-width="0.7" />
<line x1="472.056" y1="178.5" x2="472.056" y2="180.3" stroke="#1a1a1a" stroke-width="0.7" />
<line x1="475.04999999999995" y1="178.5" x2="475.04999999999995" y2="180.3" stroke="#1a1a1a" stroke-width="0.7" />
<line x1="478.044" y1="178.5" x2="478.044" y2="180.3" stroke="#1a1a1a" stroke-width="0.7" />
<text x="386.3" y="199.9" font-size="7.6" text-anchor="middle" fill="#3a3a3a" textLength="11.3" lengthAdjust="spacingAndGlyphs" >Day</text>
<text x="259.9" y="112.9" font-size="8.1" text-anchor="middle" fill="#3a3a3a" textLength="92.4" lengthAdjust="spacingAndGlyphs" transform="rotate(-90 259.9 112.9)" >ADAMTS13 activity/ADAMTS13</text>
<text x="270.6" y="113.5" font-size="8.1" text-anchor="middle" fill="#3a3a3a" textLength="99.2" lengthAdjust="spacingAndGlyphs" transform="rotate(-90 270.6 113.5)" >antigen/ADAMTS13 IgG antibody</text>
<rect x="275.8" y="210.4" width="8" height="9" fill="#fcf2d6" />
<text x="287" y="213.5" font-size="6.5" text-anchor="start" fill="#3a3a3a" textLength="210" lengthAdjust="spacingAndGlyphs" >Timepoint where there is open ADAMTS13 conformation despite normal</text>
<text x="287" y="221" font-size="6.5" text-anchor="start" fill="#3a3a3a" >ADAMTS13 activity</text>
<text x="279.5" y="230.9" font-size="6.5" text-anchor="middle" fill="#3a3a3a" >A</text>
<text x="288.3" y="230.9" font-size="6.5" text-anchor="start" fill="#3a3a3a" textLength="201.7" lengthAdjust="spacingAndGlyphs" >Time from peak ADAMTS13 activity to clinical relapse was 3.9 months</text>
<text x="279.5" y="241.4" font-size="6.5" text-anchor="middle" fill="#3a3a3a" >B</text>
<text x="288.3" y="241.4" font-size="6.5" text-anchor="start" fill="#3a3a3a" textLength="201.7" lengthAdjust="spacingAndGlyphs" >Time from peak ADAMTS13 activity to clinical relapse was 9.6 months</text>
<text x="7" y="275" font-size="11" text-anchor="start" fill="#111" font-weight="bold" >Bii</text>
<rect x="101.2" y="297.3" width="10.7" height="111.7" fill="#fdf0dc" />
<rect x="182.1" y="297.3" width="9.8" height="111.7" fill="#dddbe1" />
<text x="66" y="269.8" font-size="6.4" text-anchor="middle" fill="#3a3a3a" >Clinical</text>
<text x="66" y="277.6" font-size="6.4" text-anchor="middle" fill="#3a3a3a" >relapse</text>
<line x1="65.5" y1="281.4" x2="65.5" y2="287.59999999999997" stroke="#111" stroke-width="1" />
<polygon points="63.20,286.60 67.80,286.60 65.50,292.20" fill="#111"/>
<text x="118.9" y="269.8" font-size="6.4" text-anchor="middle" fill="#3a3a3a" >ADAMTS13</text>
<text x="118.9" y="277.6" font-size="6.4" text-anchor="middle" fill="#3a3a3a" >relapse</text>
<line x1="117.1" y1="281.4" x2="117.1" y2="287.59999999999997" stroke="#111" stroke-width="1" />
<polygon points="114.80,286.60 119.40,286.60 117.10,292.20" fill="#111"/>
<text x="175.5" y="269.8" font-size="6.4" text-anchor="middle" fill="#3a3a3a" >ADAMTS13</text>
<text x="175.5" y="277.6" font-size="6.4" text-anchor="middle" fill="#3a3a3a" >relapse</text>
<line x1="175.3" y1="281.4" x2="175.3" y2="287.59999999999997" stroke="#111" stroke-width="1" />
<polygon points="173.00,286.60 177.60,286.60 175.30,292.20" fill="#111"/>
<text x="218.2" y="269.8" font-size="6.4" text-anchor="middle" fill="#3a3a3a" >ADAMTS13</text>
<text x="218.2" y="277.6" font-size="6.4" text-anchor="middle" fill="#3a3a3a" >relapse</text>
<line x1="219.5" y1="281.4" x2="219.5" y2="287.59999999999997" stroke="#111" stroke-width="1" />
<polygon points="217.20,286.60 221.80,286.60 219.50,292.20" fill="#111"/>
<line x1="46.5" y1="365.1" x2="229.5" y2="365.1" stroke="#c24566" stroke-width="0.75" stroke-dasharray="0.9 1.45"/>
<line x1="46.5" y1="395.4" x2="229.5" y2="395.4" stroke="#eab89c" stroke-width="0.75" stroke-dasharray="0.9 1.45"/>
<polyline points="49.50,344.10 54.90,346.60" fill="none" stroke="#3d9645" stroke-width="1.0" stroke-linejoin="round" />
<polyline points="59.80,349.10 66.10,352.80 74.40,380.50 106.40,363.60 111.80,375.00" fill="none" stroke="#3d9645" stroke-width="1.0" stroke-linejoin="round" />
<polyline points="117.90,387.00 123.30,372.70 175.90,390.20 186.80,356.90 208.00,335.70 220.40,392.60 228.80,336.70" fill="none" stroke="#3d9645" stroke-width="1.0" stroke-linejoin="round" />
<polyline points="49.10,406.00 55.00,401.80" fill="none" stroke="#eea12a" stroke-width="1.0" stroke-linejoin="round" />
<polyline points="60.00,398.00 66.10,392.90 74.40,356.60 106.40,395.30 111.80,375.00" fill="none" stroke="#eea12a" stroke-width="1.0" stroke-linejoin="round" />
<polyline points="117.90,350.20 123.30,367.50 175.90,331.00 186.80,400.40 208.00,402.60 220.40,322.00 228.80,403.50" fill="none" stroke="#eea12a" stroke-width="1.0" stroke-linejoin="round" />
<polyline points="49.10,409.00 53.30,408.50" fill="none" stroke="#224876" stroke-width="1.0" stroke-linejoin="round" />
<polyline points="60.00,404.50 66.10,401.80 106.40,409.00 111.80,409.00" fill="none" stroke="#224876" stroke-width="1.0" stroke-linejoin="round" />
<polyline points="117.90,406.50 123.30,407.50 175.50,404.50 186.70,409.20 207.80,409.20 220.50,404.50 228.60,409.20" fill="none" stroke="#224876" stroke-width="1.0" stroke-linejoin="round" />
<polyline points="49.10,352.40 55.00,372.00" fill="none" stroke="#bb1238" stroke-width="1.0" stroke-linejoin="round" />
<polyline points="60.00,387.70 66.10,409.30 74.40,373.20 106.40,361.00 111.80,375.00" fill="none" stroke="#bb1238" stroke-width="1.0" stroke-linejoin="round" />
<polyline points="117.90,389.00 123.30,372.70 175.90,391.70 186.80,356.00 208.00,367.10 220.40,391.70 228.80,356.90" fill="none" stroke="#bb1238" stroke-width="1.0" stroke-linejoin="round" />
<polygon points="47.00,346.35 52.00,346.35 49.50,341.85" fill="#3d9645"/>
<polygon points="63.60,355.05 68.60,355.05 66.10,350.55" fill="#3d9645"/>
<polygon points="71.90,382.75 76.90,382.75 74.40,378.25" fill="#3d9645"/>
<polygon points="103.90,365.85 108.90,365.85 106.40,361.35" fill="#3d9645"/>
<polygon points="115.40,389.25 120.40,389.25 117.90,384.75" fill="#3d9645"/>
<polygon points="120.80,374.95 125.80,374.95 123.30,370.45" fill="#3d9645"/>
<polygon points="173.40,392.45 178.40,392.45 175.90,387.95" fill="#3d9645"/>
<polygon points="184.30,359.15 189.30,359.15 186.80,354.65" fill="#3d9645"/>
<polygon points="205.50,337.95 210.50,337.95 208.00,333.45" fill="#3d9645"/>
<polygon points="217.90,394.85 222.90,394.85 220.40,390.35" fill="#3d9645"/>
<polygon points="226.30,338.95 231.30,338.95 228.80,334.45" fill="#3d9645"/>
<polygon points="46.60,403.75 51.60,403.75 49.10,408.25" fill="#eea12a"/>
<polygon points="63.60,390.65 68.60,390.65 66.10,395.15" fill="#eea12a"/>
<polygon points="71.90,354.35 76.90,354.35 74.40,358.85" fill="#eea12a"/>
<polygon points="103.90,393.05 108.90,393.05 106.40,397.55" fill="#eea12a"/>
<polygon points="115.40,347.95 120.40,347.95 117.90,352.45" fill="#eea12a"/>
<polygon points="120.80,365.25 125.80,365.25 123.30,369.75" fill="#eea12a"/>
<polygon points="173.40,328.75 178.40,328.75 175.90,333.25" fill="#eea12a"/>
<polygon points="184.30,398.15 189.30,398.15 186.80,402.65" fill="#eea12a"/>
<polygon points="205.50,400.35 210.50,400.35 208.00,404.85" fill="#eea12a"/>
<polygon points="217.90,319.75 222.90,319.75 220.40,324.25" fill="#eea12a"/>
<polygon points="226.30,401.25 231.30,401.25 228.80,405.75" fill="#eea12a"/>
<rect x="46.90" y="406.80" width="4.4" height="4.4" fill="#224876"/>
<rect x="51.10" y="406.30" width="4.4" height="4.4" fill="#224876"/>
<rect x="63.90" y="399.60" width="4.4" height="4.4" fill="#224876"/>
<rect x="104.20" y="406.80" width="4.4" height="4.4" fill="#224876"/>
<rect x="115.70" y="404.30" width="4.4" height="4.4" fill="#224876"/>
<rect x="121.10" y="405.30" width="4.4" height="4.4" fill="#224876"/>
<rect x="173.30" y="402.30" width="4.4" height="4.4" fill="#224876"/>
<rect x="184.50" y="407.00" width="4.4" height="4.4" fill="#224876"/>
<rect x="205.60" y="407.00" width="4.4" height="4.4" fill="#224876"/>
<rect x="218.30" y="402.30" width="4.4" height="4.4" fill="#224876"/>
<rect x="226.40" y="407.00" width="4.4" height="4.4" fill="#224876"/>
<circle cx="49.1" cy="352.4" r="2.5" fill="#bb1238"/>
<circle cx="66.1" cy="409.3" r="2.5" fill="#bb1238"/>
<circle cx="74.4" cy="373.2" r="2.5" fill="#bb1238"/>
<circle cx="106.4" cy="361" r="2.5" fill="#bb1238"/>
<circle cx="117.9" cy="389" r="2.5" fill="#bb1238"/>
<circle cx="123.3" cy="372.7" r="2.5" fill="#bb1238"/>
<circle cx="175.9" cy="391.7" r="2.5" fill="#bb1238"/>
<circle cx="186.8" cy="356" r="2.5" fill="#bb1238"/>
<circle cx="208" cy="367.1" r="2.5" fill="#bb1238"/>
<circle cx="220.4" cy="391.7" r="2.5" fill="#bb1238"/>
<circle cx="228.8" cy="356.9" r="2.5" fill="#bb1238"/>
<line x1="46.5" y1="295" x2="46.5" y2="410.0" stroke="#1a1a1a" stroke-width="1" />
<line x1="43.5" y1="409.1" x2="46.5" y2="409.1" stroke="#1a1a1a" stroke-width="0.9" />
<text x="39.9" y="411.40000000000003" font-size="6.5" text-anchor="end" fill="#3a3a3a" textLength="3.3248800000000003" lengthAdjust="spacingAndGlyphs" >0</text>
<line x1="43.5" y1="372.0" x2="46.5" y2="372.0" stroke="#1a1a1a" stroke-width="0.9" />
<text x="39.9" y="374.3" font-size="6.5" text-anchor="end" fill="#3a3a3a" textLength="6.649760000000001" lengthAdjust="spacingAndGlyphs" >50</text>
<line x1="43.5" y1="334.90000000000003" x2="46.5" y2="334.90000000000003" stroke="#1a1a1a" stroke-width="0.9" />
<text x="39.9" y="337.20000000000005" font-size="6.5" text-anchor="end" fill="#3a3a3a" textLength="9.97464" lengthAdjust="spacingAndGlyphs" >100</text>
<line x1="43.5" y1="297.8" x2="46.5" y2="297.8" stroke="#1a1a1a" stroke-width="0.9" />
<text x="39.9" y="300.1" font-size="6.5" text-anchor="end" fill="#3a3a3a" textLength="9.97464" lengthAdjust="spacingAndGlyphs" >150</text>
<line x1="44.9" y1="401.68" x2="46.5" y2="401.68" stroke="#1a1a1a" stroke-width="0.8" />
<line x1="44.9" y1="394.26000000000005" x2="46.5" y2="394.26000000000005" stroke="#1a1a1a" stroke-width="0.8" />
<line x1="44.9" y1="386.84000000000003" x2="46.5" y2="386.84000000000003" stroke="#1a1a1a" stroke-width="0.8" />
<line x1="44.9" y1="379.42" x2="46.5" y2="379.42" stroke="#1a1a1a" stroke-width="0.8" />
<line x1="44.9" y1="364.58000000000004" x2="46.5" y2="364.58000000000004" stroke="#1a1a1a" stroke-width="0.8" />
<line x1="44.9" y1="357.16" x2="46.5" y2="357.16" stroke="#1a1a1a" stroke-width="0.8" />
<line x1="44.9" y1="349.74" x2="46.5" y2="349.74" stroke="#1a1a1a" stroke-width="0.8" />
<line x1="44.9" y1="342.32000000000005" x2="46.5" y2="342.32000000000005" stroke="#1a1a1a" stroke-width="0.8" />
<line x1="44.9" y1="327.48" x2="46.5" y2="327.48" stroke="#1a1a1a" stroke-width="0.8" />
<line x1="44.9" y1="320.06000000000006" x2="46.5" y2="320.06000000000006" stroke="#1a1a1a" stroke-width="0.8" />
<line x1="44.9" y1="312.64000000000004" x2="46.5" y2="312.64000000000004" stroke="#1a1a1a" stroke-width="0.8" />
<line x1="44.9" y1="305.22" x2="46.5" y2="305.22" stroke="#1a1a1a" stroke-width="0.8" />
<line x1="229.5" y1="295" x2="229.5" y2="410.0" stroke="#1a1a1a" stroke-width="1" />
<line x1="229.5" y1="409.1" x2="232.5" y2="409.1" stroke="#1a1a1a" stroke-width="0.9" />
<text x="235.2" y="411.40000000000003" font-size="6.5" text-anchor="start" fill="#3a3a3a" textLength="3.3248800000000003" lengthAdjust="spacingAndGlyphs" >0</text>
<line x1="229.5" y1="381.25" x2="232.5" y2="381.25" stroke="#1a1a1a" stroke-width="0.9" />
<text x="235.2" y="383.55" font-size="6.5" text-anchor="start" fill="#3a3a3a" textLength="3.3248800000000003" lengthAdjust="spacingAndGlyphs" >1</text>
<line x1="229.5" y1="353.40000000000003" x2="232.5" y2="353.40000000000003" stroke="#1a1a1a" stroke-width="0.9" />
<text x="235.2" y="355.70000000000005" font-size="6.5" text-anchor="start" fill="#3a3a3a" textLength="3.3248800000000003" lengthAdjust="spacingAndGlyphs" >2</text>
<line x1="229.5" y1="325.55" x2="232.5" y2="325.55" stroke="#1a1a1a" stroke-width="0.9" />
<text x="235.2" y="327.85" font-size="6.5" text-anchor="start" fill="#3a3a3a" textLength="3.3248800000000003" lengthAdjust="spacingAndGlyphs" >3</text>
<line x1="229.5" y1="297.70000000000005" x2="232.5" y2="297.70000000000005" stroke="#1a1a1a" stroke-width="0.9" />
<text x="235.2" y="300.00000000000006" font-size="6.5" text-anchor="start" fill="#3a3a3a" textLength="3.3248800000000003" lengthAdjust="spacingAndGlyphs" >4</text>
<line x1="229.5" y1="395.175" x2="231.5" y2="395.175" stroke="#1a1a1a" stroke-width="0.8" />
<line x1="229.5" y1="367.32500000000005" x2="231.5" y2="367.32500000000005" stroke="#1a1a1a" stroke-width="0.8" />
<line x1="229.5" y1="339.475" x2="231.5" y2="339.475" stroke="#1a1a1a" stroke-width="0.8" />
<line x1="229.5" y1="311.625" x2="231.5" y2="311.625" stroke="#1a1a1a" stroke-width="0.8" />
<line x1="46" y1="409.5" x2="55.2" y2="409.5" stroke="#1a1a1a" stroke-width="1" />
<line x1="60" y1="409.5" x2="111.9" y2="409.5" stroke="#1a1a1a" stroke-width="1" />
<line x1="115.8" y1="409.5" x2="229.5" y2="409.5" stroke="#1a1a1a" stroke-width="1" />
<line x1="49.1" y1="409.4" x2="49.1" y2="412.2" stroke="#1a1a1a" stroke-width="0.9" />
<text x="50.300000000000004" y="418.8" font-size="6.8" text-anchor="end" fill="#3a3a3a" transform="rotate(-45 50.300000000000004 418.8)" >155</text>
<line x1="54.3" y1="409.4" x2="54.3" y2="412.2" stroke="#1a1a1a" stroke-width="0.9" />
<text x="57.8" y="418.8" font-size="6.8" text-anchor="end" fill="#3a3a3a" transform="rotate(-45 57.8 418.8)" >160</text>
<line x1="70.3" y1="409.4" x2="70.3" y2="412.2" stroke="#1a1a1a" stroke-width="0.9" />
<text x="72.5" y="418.8" font-size="6.8" text-anchor="end" fill="#3a3a3a" transform="rotate(-45 72.5 418.8)" >500</text>
<line x1="119.1" y1="409.4" x2="119.1" y2="412.2" stroke="#1a1a1a" stroke-width="0.9" />
<text x="120.3" y="418.8" font-size="6.8" text-anchor="end" fill="#3a3a3a" transform="rotate(-45 120.3 418.8)" >1000</text>
<line x1="168.5" y1="409.4" x2="168.5" y2="412.2" stroke="#1a1a1a" stroke-width="0.9" />
<text x="172.39999999999998" y="418.8" font-size="6.8" text-anchor="end" fill="#3a3a3a" transform="rotate(-45 172.39999999999998 418.8)" >1500</text>
<line x1="218.9" y1="409.4" x2="218.9" y2="412.2" stroke="#1a1a1a" stroke-width="0.9" />
<text x="222.1" y="418.8" font-size="6.8" text-anchor="end" fill="#3a3a3a" transform="rotate(-45 222.1 418.8)" >2000</text>
<line x1="86.5" y1="409.4" x2="86.5" y2="411.3" stroke="#1a1a1a" stroke-width="0.8" />
<line x1="102.5" y1="409.4" x2="102.5" y2="411.3" stroke="#1a1a1a" stroke-width="0.8" />
<line x1="134.5" y1="409.4" x2="134.5" y2="411.3" stroke="#1a1a1a" stroke-width="0.8" />
<line x1="151.3" y1="409.4" x2="151.3" y2="411.3" stroke="#1a1a1a" stroke-width="0.8" />
<line x1="187" y1="409.4" x2="187" y2="411.3" stroke="#1a1a1a" stroke-width="0.8" />
<line x1="203" y1="409.4" x2="203" y2="411.3" stroke="#1a1a1a" stroke-width="0.8" />
<text x="132.2" y="439.5" font-size="7.2" text-anchor="middle" fill="#3a3a3a" textLength="11.3" lengthAdjust="spacingAndGlyphs" >Day</text>
<text x="13" y="352.75" font-size="8.1" text-anchor="middle" fill="#3a3a3a" textLength="90.7" lengthAdjust="spacingAndGlyphs" transform="rotate(-90 13 352.75)" >ADAMTS13 activity/ADAMTS13</text>
<text x="24.4" y="352.45" font-size="8.1" text-anchor="middle" fill="#3a3a3a" textLength="99.5" lengthAdjust="spacingAndGlyphs" transform="rotate(-90 24.4 352.45)" >antigen/ADAMTS13 IgG antibody</text>
<text x="243.6" y="352.5" font-size="8.8" text-anchor="middle" fill="#3a3a3a" textLength="15.2" lengthAdjust="spacingAndGlyphs" transform="rotate(90 243.6 352.5)" >CIND</text>
<rect x="26" y="450.9" width="9.3" height="9.2" fill="#fdf0dc" />
<text x="38.8" y="454" font-size="6.5" text-anchor="start" fill="#3a3a3a" textLength="188" lengthAdjust="spacingAndGlyphs" >Timepoint where there is open ADAMTS13 conformation despite</text>
<text x="38.8" y="462" font-size="6.5" text-anchor="start" fill="#3a3a3a" >normal ADAMTS13 activity</text>
<rect x="26" y="466.6" width="9.3" height="8.1" fill="#dddbe1" />
<text x="38.8" y="472.4" font-size="6.5" text-anchor="start" fill="#3a3a3a" textLength="168" lengthAdjust="spacingAndGlyphs" >Timepoint where there is closed ADAMTS13 conformation</text>
<text x="253.5" y="275" font-size="11" text-anchor="start" fill="#111" font-weight="bold" >C</text>
<text x="409.8" y="260.3" font-size="6.4" text-anchor="middle" fill="#3a3a3a" >Clinical</text>
<text x="409.8" y="268.4" font-size="6.4" text-anchor="middle" fill="#3a3a3a" >relapse</text>
<line x1="409.8" y1="272.4" x2="409.8" y2="283.59999999999997" stroke="#111" stroke-width="1" />
<polygon points="407.50,282.60 412.10,282.60 409.80,288.20" fill="#111"/>
<line x1="301.3" y1="360.7" x2="487.5" y2="360.7" stroke="#c24566" stroke-width="0.75" stroke-dasharray="0.9 1.45"/>
<line x1="301.3" y1="404.2" x2="487.5" y2="404.2" stroke="#eab89c" stroke-width="0.75" stroke-dasharray="0.9 1.45"/>
<polyline points="301.50,368.10 308.80,372.70 334.70,358.80 351.10,358.20 409.90,403.00 461.90,345.80 483.80,341.20" fill="none" stroke="#3d9645" stroke-width="1.0" stroke-linejoin="round" />
<polyline points="301.50,391.80 308.80,393.50 334.70,401.50 351.10,398.80 409.80,294.30 461.80,398.20 483.60,398.80" fill="none" stroke="#eea12a" stroke-width="1.0" stroke-linejoin="round" />
<polyline points="301.50,408.50 308.70,309.20 334.80,303.00 351.10,403.80 409.90,350.20 461.80,409.50 483.60,409.50" fill="none" stroke="#224876" stroke-width="1.1" stroke-linejoin="round" />
<polyline points="301.50,391.80 308.80,410.00 334.70,410.00 351.10,410.00 409.90,409.80 461.80,370.70 483.60,363.30" fill="none" stroke="#bb1238" stroke-width="1.0" stroke-linejoin="round" />
<polygon points="298.90,370.44 304.10,370.44 301.50,365.76" fill="#3d9645"/>
<polygon points="306.20,375.04 311.40,375.04 308.80,370.36" fill="#3d9645"/>
<polygon points="332.10,361.14 337.30,361.14 334.70,356.46" fill="#3d9645"/>
<polygon points="348.50,360.54 353.70,360.54 351.10,355.86" fill="#3d9645"/>
<polygon points="407.30,405.34 412.50,405.34 409.90,400.66" fill="#3d9645"/>
<polygon points="459.30,348.14 464.50,348.14 461.90,343.46" fill="#3d9645"/>
<polygon points="481.20,343.54 486.40,343.54 483.80,338.86" fill="#3d9645"/>
<polygon points="306.20,391.16 311.40,391.16 308.80,395.84" fill="#eea12a"/>
<polygon points="332.10,399.16 337.30,399.16 334.70,403.84" fill="#eea12a"/>
<polygon points="348.50,396.46 353.70,396.46 351.10,401.14" fill="#eea12a"/>
<polygon points="407.20,291.96 412.40,291.96 409.80,296.64" fill="#eea12a"/>
<polygon points="459.20,395.86 464.40,395.86 461.80,400.54" fill="#eea12a"/>
<polygon points="481.00,396.46 486.20,396.46 483.60,401.14" fill="#eea12a"/>
<rect x="299.10" y="406.10" width="4.8" height="4.8" fill="#224876"/>
<rect x="306.30" y="306.80" width="4.8" height="4.8" fill="#224876"/>
<rect x="332.40" y="300.60" width="4.8" height="4.8" fill="#224876"/>
<rect x="348.70" y="401.40" width="4.8" height="4.8" fill="#224876"/>
<rect x="407.50" y="347.80" width="4.8" height="4.8" fill="#224876"/>
<rect x="459.40" y="407.10" width="4.8" height="4.8" fill="#224876"/>
<rect x="481.20" y="407.10" width="4.8" height="4.8" fill="#224876"/>
<circle cx="301.5" cy="391.8" r="2.6" fill="#bb1238"/>
<circle cx="308.8" cy="410" r="2.6" fill="#bb1238"/>
<circle cx="334.7" cy="410" r="2.6" fill="#bb1238"/>
<circle cx="351.1" cy="410" r="2.6" fill="#bb1238"/>
<circle cx="409.9" cy="409.8" r="2.6" fill="#bb1238"/>
<circle cx="461.8" cy="370.7" r="2.6" fill="#bb1238"/>
<circle cx="483.6" cy="363.3" r="2.6" fill="#bb1238"/>
<line x1="301.5" y1="284.5" x2="301.5" y2="411.0" stroke="#1a1a1a" stroke-width="1" />
<line x1="298.5" y1="409.6" x2="301.5" y2="409.6" stroke="#1a1a1a" stroke-width="0.9" />
<text x="294.9" y="412.20000000000005" font-size="7.2" text-anchor="end" fill="#3a3a3a" textLength="3.3626880000000003" lengthAdjust="spacingAndGlyphs" >0</text>
<line x1="298.5" y1="369.05" x2="301.5" y2="369.05" stroke="#1a1a1a" stroke-width="0.9" />
<text x="294.9" y="371.65000000000003" font-size="7.2" text-anchor="end" fill="#3a3a3a" textLength="6.725376000000001" lengthAdjust="spacingAndGlyphs" >50</text>
<line x1="298.5" y1="328.5" x2="301.5" y2="328.5" stroke="#1a1a1a" stroke-width="0.9" />
<text x="294.9" y="331.1" font-size="7.2" text-anchor="end" fill="#3a3a3a" textLength="10.088064000000001" lengthAdjust="spacingAndGlyphs" >100</text>
<line x1="298.5" y1="287.95000000000005" x2="301.5" y2="287.95000000000005" stroke="#1a1a1a" stroke-width="0.9" />
<text x="294.9" y="290.55000000000007" font-size="7.2" text-anchor="end" fill="#3a3a3a" textLength="10.088064000000001" lengthAdjust="spacingAndGlyphs" >150</text>
<line x1="299.9" y1="401.49" x2="301.5" y2="401.49" stroke="#1a1a1a" stroke-width="0.8" />
<line x1="299.9" y1="393.38" x2="301.5" y2="393.38" stroke="#1a1a1a" stroke-width="0.8" />
<line x1="299.9" y1="385.27000000000004" x2="301.5" y2="385.27000000000004" stroke="#1a1a1a" stroke-width="0.8" />
<line x1="299.9" y1="377.16" x2="301.5" y2="377.16" stroke="#1a1a1a" stroke-width="0.8" />
<line x1="299.9" y1="360.94" x2="301.5" y2="360.94" stroke="#1a1a1a" stroke-width="0.8" />
<line x1="299.9" y1="352.83000000000004" x2="301.5" y2="352.83000000000004" stroke="#1a1a1a" stroke-width="0.8" />
<line x1="299.9" y1="344.72" x2="301.5" y2="344.72" stroke="#1a1a1a" stroke-width="0.8" />
<line x1="299.9" y1="336.61" x2="301.5" y2="336.61" stroke="#1a1a1a" stroke-width="0.8" />
<line x1="299.9" y1="320.39" x2="301.5" y2="320.39" stroke="#1a1a1a" stroke-width="0.8" />
<line x1="299.9" y1="312.28000000000003" x2="301.5" y2="312.28000000000003" stroke="#1a1a1a" stroke-width="0.8" />
<line x1="299.9" y1="304.17" x2="301.5" y2="304.17" stroke="#1a1a1a" stroke-width="0.8" />
<line x1="299.9" y1="296.06" x2="301.5" y2="296.06" stroke="#1a1a1a" stroke-width="0.8" />
<line x1="487.5" y1="284.5" x2="487.5" y2="411.0" stroke="#1a1a1a" stroke-width="1" />
<line x1="487.5" y1="409.3" x2="490.5" y2="409.3" stroke="#1a1a1a" stroke-width="0.9" />
<text x="494.2" y="411.8" font-size="7.0" text-anchor="start" fill="#3a3a3a" textLength="3.5028000000000006" lengthAdjust="spacingAndGlyphs" >0</text>
<line x1="487.5" y1="398.21000000000004" x2="490.5" y2="398.21000000000004" stroke="#1a1a1a" stroke-width="0.9" />
<text x="494.2" y="400.71000000000004" font-size="7.0" text-anchor="start" fill="#3a3a3a" textLength="3.5028000000000006" lengthAdjust="spacingAndGlyphs" >1</text>
<line x1="487.5" y1="387.12" x2="490.5" y2="387.12" stroke="#1a1a1a" stroke-width="0.9" />
<text x="494.2" y="389.62" font-size="7.0" text-anchor="start" fill="#3a3a3a" textLength="3.5028000000000006" lengthAdjust="spacingAndGlyphs" >2</text>
<line x1="487.5" y1="376.03000000000003" x2="490.5" y2="376.03000000000003" stroke="#1a1a1a" stroke-width="0.9" />
<text x="494.2" y="378.53000000000003" font-size="7.0" text-anchor="start" fill="#3a3a3a" textLength="3.5028000000000006" lengthAdjust="spacingAndGlyphs" >3</text>
<line x1="487.5" y1="364.94" x2="490.5" y2="364.94" stroke="#1a1a1a" stroke-width="0.9" />
<text x="494.2" y="367.44" font-size="7.0" text-anchor="start" fill="#3a3a3a" textLength="3.5028000000000006" lengthAdjust="spacingAndGlyphs" >4</text>
<line x1="487.5" y1="353.85" x2="490.5" y2="353.85" stroke="#1a1a1a" stroke-width="0.9" />
<text x="494.2" y="356.35" font-size="7.0" text-anchor="start" fill="#3a3a3a" textLength="3.5028000000000006" lengthAdjust="spacingAndGlyphs" >5</text>
<line x1="487.5" y1="342.76" x2="490.5" y2="342.76" stroke="#1a1a1a" stroke-width="0.9" />
<text x="494.2" y="345.26" font-size="7.0" text-anchor="start" fill="#3a3a3a" textLength="3.5028000000000006" lengthAdjust="spacingAndGlyphs" >6</text>
<line x1="487.5" y1="331.67" x2="490.5" y2="331.67" stroke="#1a1a1a" stroke-width="0.9" />
<text x="494.2" y="334.17" font-size="7.0" text-anchor="start" fill="#3a3a3a" textLength="3.5028000000000006" lengthAdjust="spacingAndGlyphs" >7</text>
<line x1="487.5" y1="320.58000000000004" x2="490.5" y2="320.58000000000004" stroke="#1a1a1a" stroke-width="0.9" />
<text x="494.2" y="323.08000000000004" font-size="7.0" text-anchor="start" fill="#3a3a3a" textLength="3.5028000000000006" lengthAdjust="spacingAndGlyphs" >8</text>
<line x1="487.5" y1="309.49" x2="490.5" y2="309.49" stroke="#1a1a1a" stroke-width="0.9" />
<text x="494.2" y="311.99" font-size="7.0" text-anchor="start" fill="#3a3a3a" textLength="3.5028000000000006" lengthAdjust="spacingAndGlyphs" >9</text>
<line x1="487.5" y1="298.4" x2="490.5" y2="298.4" stroke="#1a1a1a" stroke-width="0.9" />
<text x="494.2" y="300.9" font-size="7.0" text-anchor="start" fill="#3a3a3a" textLength="7.005600000000001" lengthAdjust="spacingAndGlyphs" >10</text>
<line x1="487.5" y1="287.31" x2="490.5" y2="287.31" stroke="#1a1a1a" stroke-width="0.9" />
<text x="494.2" y="289.81" font-size="7.0" text-anchor="start" fill="#3a3a3a" textLength="7.005600000000001" lengthAdjust="spacingAndGlyphs" >11</text>
<line x1="487.5" y1="403.755" x2="489.3" y2="403.755" stroke="#1a1a1a" stroke-width="0.8" />
<line x1="487.5" y1="392.665" x2="489.3" y2="392.665" stroke="#1a1a1a" stroke-width="0.8" />
<line x1="487.5" y1="381.575" x2="489.3" y2="381.575" stroke="#1a1a1a" stroke-width="0.8" />
<line x1="487.5" y1="370.485" x2="489.3" y2="370.485" stroke="#1a1a1a" stroke-width="0.8" />
<line x1="487.5" y1="359.395" x2="489.3" y2="359.395" stroke="#1a1a1a" stroke-width="0.8" />
<line x1="487.5" y1="348.305" x2="489.3" y2="348.305" stroke="#1a1a1a" stroke-width="0.8" />
<line x1="487.5" y1="337.21500000000003" x2="489.3" y2="337.21500000000003" stroke="#1a1a1a" stroke-width="0.8" />
<line x1="487.5" y1="326.125" x2="489.3" y2="326.125" stroke="#1a1a1a" stroke-width="0.8" />
<line x1="487.5" y1="315.035" x2="489.3" y2="315.035" stroke="#1a1a1a" stroke-width="0.8" />
<line x1="487.5" y1="303.945" x2="489.3" y2="303.945" stroke="#1a1a1a" stroke-width="0.8" />
<line x1="487.5" y1="292.855" x2="489.3" y2="292.855" stroke="#1a1a1a" stroke-width="0.8" />
<line x1="301.5" y1="410.5" x2="487.5" y2="410.5" stroke="#1a1a1a" stroke-width="1" />
<line x1="301.5" y1="410" x2="301.5" y2="413" stroke="#1a1a1a" stroke-width="0.9" />
<text x="301.5" y="421.8" font-size="6.8" text-anchor="middle" fill="#3a3a3a" textLength="3.4027200000000004" lengthAdjust="spacingAndGlyphs" >0</text>
<line x1="347.8" y1="410" x2="347.8" y2="413" stroke="#1a1a1a" stroke-width="0.9" />
<text x="347.8" y="421.8" font-size="6.8" text-anchor="middle" fill="#3a3a3a" textLength="10.208160000000001" lengthAdjust="spacingAndGlyphs" >200</text>
<line x1="394.1" y1="410" x2="394.1" y2="413" stroke="#1a1a1a" stroke-width="0.9" />
<text x="394.1" y="421.8" font-size="6.8" text-anchor="middle" fill="#3a3a3a" textLength="10.208160000000001" lengthAdjust="spacingAndGlyphs" >400</text>
<line x1="440.4" y1="410" x2="440.4" y2="413" stroke="#1a1a1a" stroke-width="0.9" />
<text x="440.4" y="421.8" font-size="6.8" text-anchor="middle" fill="#3a3a3a" textLength="10.208160000000001" lengthAdjust="spacingAndGlyphs" >600</text>
<line x1="486.70000000000005" y1="410" x2="486.70000000000005" y2="413" stroke="#1a1a1a" stroke-width="0.9" />
<text x="486.70000000000005" y="421.8" font-size="6.8" text-anchor="middle" fill="#3a3a3a" textLength="10.208160000000001" lengthAdjust="spacingAndGlyphs" >800</text>
<line x1="316.93333333333334" y1="410.5" x2="316.93333333333334" y2="412.5" stroke="#1a1a1a" stroke-width="0.8" />
<line x1="332.3666666666667" y1="410.5" x2="332.3666666666667" y2="412.5" stroke="#1a1a1a" stroke-width="0.8" />
<line x1="363.23333333333335" y1="410.5" x2="363.23333333333335" y2="412.5" stroke="#1a1a1a" stroke-width="0.8" />
<line x1="378.6666666666667" y1="410.5" x2="378.6666666666667" y2="412.5" stroke="#1a1a1a" stroke-width="0.8" />
<line x1="409.53333333333336" y1="410.5" x2="409.53333333333336" y2="412.5" stroke="#1a1a1a" stroke-width="0.8" />
<line x1="424.9666666666667" y1="410.5" x2="424.9666666666667" y2="412.5" stroke="#1a1a1a" stroke-width="0.8" />
<line x1="455.83333333333337" y1="410.5" x2="455.83333333333337" y2="412.5" stroke="#1a1a1a" stroke-width="0.8" />
<line x1="471.26666666666665" y1="410.5" x2="471.26666666666665" y2="412.5" stroke="#1a1a1a" stroke-width="0.8" />
<text x="394.7" y="433.9" font-size="8.6" text-anchor="middle" fill="#3a3a3a" textLength="11.6" lengthAdjust="spacingAndGlyphs" >Day</text>
<text x="268.9" y="348.15" font-size="8.1" text-anchor="middle" fill="#3a3a3a" textLength="104.7" lengthAdjust="spacingAndGlyphs" transform="rotate(-90 268.9 348.15)" >ADAMTS13 activity/anti-ADAMTS13</text>
<text x="279.3" y="347.55" font-size="8.1" text-anchor="middle" fill="#3a3a3a" textLength="99.1" lengthAdjust="spacingAndGlyphs" transform="rotate(-90 279.3 347.55)" >IgG antibody/ADAMTS13 antigen</text>
<text x="505.8" y="347.5" font-size="8.8" text-anchor="middle" fill="#3a3a3a" textLength="15.2" lengthAdjust="spacingAndGlyphs" transform="rotate(90 505.8 347.5)" >CIND</text>
</svg>
</body></html>
